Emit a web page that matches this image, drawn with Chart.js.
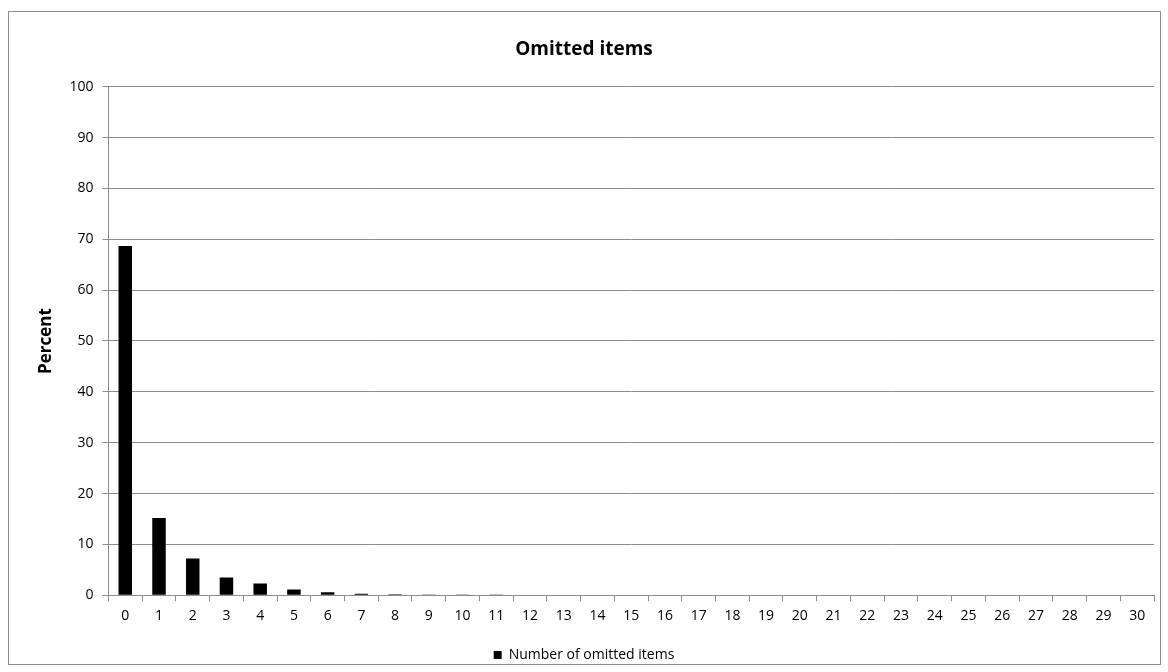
<!DOCTYPE html>
<html>
<head>
<meta charset="utf-8">
<script src="https://cdn.jsdelivr.net/npm/chart.js@4"></script>
<style>
  html, body { margin: 0; padding: 0; background: #fff; }
  #wrap { position: relative; width: 1168px; height: 672px; }
  #frame { position: absolute; left: 8px; top: 11px; width: 1151px; height: 652px; border: 1px solid #8c8c8c; pointer-events: none; }
</style>
</head>
<body>
<div id="wrap">
  <canvas id="chart" width="1168" height="672"></canvas>
  <div id="frame"></div>
</div>
<script>
const categories = ['0','1','2','3','4','5','6','7','8','9','10','11','12','13','14','15','16','17','18','19','20','21','22','23','24','25','26','27','28','29','30'];
const percents = [68.7, 15.2, 7.2, 3.5, 2.3, 1.1, 0.6, 0.3, 0.2, 0.12, 0.05, 0.12, 0, 0, 0, 0, 0, 0, 0, 0, 0, 0, 0, 0, 0, 0, 0, 0, 0, 0, 0];
const seriesName = 'Number of omitted items';

const fontFamily = "'Open Sans', 'Noto Sans', sans-serif";
Chart.defaults.font.family = fontFamily;
Chart.defaults.color = '#000';

const ctx = document.getElementById('chart');

const chart = new Chart(ctx, {
    type: 'bar',
    data: {
        labels: categories,
        datasets: [{
            label: seriesName,
            data: percents,
            backgroundColor: '#000',
            borderWidth: 0,
            categoryPercentage: 1,
            barPercentage: 0.4
        }]
    },
    options: {
        responsive: false,
        animation: false,
        layout: {
            padding: { left: 14, right: 14, top: 38, bottom: 0 }
        },
        plugins: {
            title: {
                display: true,
                text: 'Omitted items',
                font: { size: 19, weight: 'bold' },
                padding: { top: 0, bottom: 26 }
            },
            legend: {
                position: 'bottom',
                labels: {
                    boxWidth: 8,
                    boxHeight: 8,
                    padding: 12,
                    font: { size: 14 }
                }
            },
            tooltip: { enabled: false }
        },
        scales: {
            x: {
                offset: true,
                grid: {
                    offset: true,
                    drawOnChartArea: false,
                    drawTicks: true,
                    tickLength: 6,
                    color: '#8c8c8c'
                },
                border: { color: '#8c8c8c' },
                ticks: {
                    autoSkip: false,
                    maxRotation: 0,
                    font: { size: 14 },
                    padding: 6
                },
                afterFit: (scale) => { scale.height += 6; }
            },
            y: {
                min: 0,
                max: 100,
                grid: {
                    color: '#8c8c8c',
                    tickLength: 6
                },
                border: { color: '#8c8c8c' },
                ticks: {
                    stepSize: 10,
                    font: { size: 14 },
                    padding: 9
                },
                title: {
                    display: true,
                    text: 'Percent',
                    font: { size: 17, weight: 'bold' },
                    padding: { top: 22, bottom: 4 }
                }
            }
        }
    }
});
</script>
</body>
</html>
